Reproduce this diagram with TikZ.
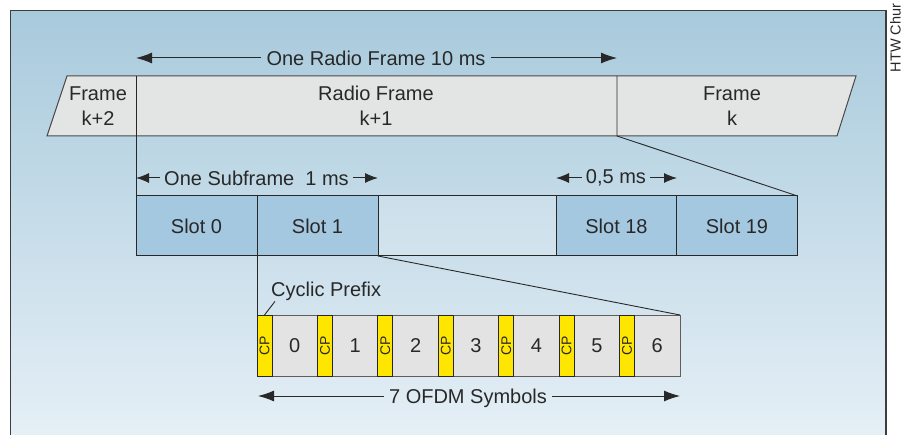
\documentclass[tikz,border=0pt]{standalone}
\usepackage{fontspec}
\setmainfont{Liberation Sans}
\usetikzlibrary{arrows.meta}
\definecolor{bgtop}{RGB}{168,202,220}
\definecolor{bgbot}{RGB}{229,239,246}
\definecolor{ink}{RGB}{40,40,40}
\definecolor{framefill}{RGB}{227,229,229}
\definecolor{slotfill}{RGB}{165,200,225}
\definecolor{cpfill}{RGB}{255,230,0}
\definecolor{symfill}{RGB}{227,227,227}
\tikzset{
  txt/.style={text=ink, font=\fontsize{20}{25}\selectfont, inner sep=0pt},
  slotbox/.style={txt, draw=ink, line width=1pt, fill=slotfill, minimum width=121pt, minimum height=60pt, outer sep=0pt},
  gapbox/.style={draw=ink, line width=1pt, fill=white, fill opacity=0.15, minimum width=178pt, minimum height=60pt, inner sep=0pt, outer sep=0pt},
  cpbox/.style={draw=ink, line width=0.9pt, fill=cpfill, minimum width=15pt, minimum height=61pt, inner sep=0pt, outer sep=0pt},
  cptext/.style={text=ink, font=\fontsize{14}{14}\selectfont, rotate=90, inner sep=0pt},
  symbox/.style={txt, draw=ink!75, line width=0.9pt, fill=symfill, minimum width=45.43pt, minimum height=61pt, outer sep=0pt},
  lbl/.style={txt, inner xsep=5pt},
  arr/.style={draw=ink, line width=1pt, -{Latex[length=16pt,width=11pt]}},
  sarr/.style={draw=ink, line width=1pt, -{Latex[length=13pt,width=10pt]}},
  link/.style={draw=ink, line width=0.9pt},
}
\begin{document}
\begin{tikzpicture}[x=1pt,y=-1pt]
\useasboundingbox (0,0) rectangle (904,435);
% panel
\shade[top color=bgtop, bottom color=bgbot] (10.5,10.5) rectangle (886,435);
\draw[draw=ink!90, line width=1.4pt] (10.5,440) -- (10.5,10.5) -- (886,10.5) -- (886,440);
\node[text=ink, font=\fontsize{14.5}{14.5}\selectfont, rotate=90, inner sep=0pt] (htw) at (895.5,38) {HTW Chur};

% radio frame row
\filldraw[fill=framefill, draw=ink!85, line width=1pt] (67,76) -- (856,76) -- (837,136) -- (47,136) -- cycle;
\coordinate (d1) at (136,76);
\coordinate (d2) at (617,76);
\coordinate (d2b) at (617,136);
\node[txt, align=center] (fk2) at (98,106) {Frame\\k+2};
\node[txt, align=center] (fk1) at (376,106) {Radio Frame\\k+1};
\node[txt, align=center] (fk) at (732,106) {Frame\\k};

% top arrow
\node[lbl] (t1) at (376,58) {One Radio Frame 10 ms};
\coordinate (a1l) at (136,58);
\coordinate (a1r) at (617,58);
\draw[arr] (t1.west) -- (a1l);
\draw[arr] (t1.east) -- (a1r);

% slots
\node[slotbox] (s0) at (196.5,226) {Slot 0};
\node[slotbox] (s1) at (317.5,226) {Slot 1};
\node[gapbox] (gap) at (467,226) {};
\node[slotbox] (s18) at (616.5,226) {Slot 18};
\node[slotbox] (s19) at (737,226) {Slot 19};

\draw[link] (d1) -- (s0.north west);
\draw[link] (d2) -- (d2b) -- (s19.north east);

% subframe arrows
\node[lbl, inner xsep=4pt] (t2) at (256.5,178) {One Subframe\ \ 1 ms};
\coordinate (a2l) at (136,178);
\coordinate (a2r) at (378,178);
\draw[sarr] (t2.west) -- (a2l);
\draw[sarr] (t2.east) -- (a2r);
\node[lbl, inner xsep=4pt] (t3) at (616,178) {0,5 ms};
\coordinate (a3l) at (556,178);
\coordinate (a3r) at (677,178);
\draw[sarr] (t3.west) -- (a3l);
\draw[sarr] (t3.east) -- (a3r);

% OFDM symbols
\foreach \i in {0,...,6} {
  \node[symbox] (sym\i) at ({294.715+60.43*\i},345.5) {\i};
  \node[cpbox] (cp\i) at ({264.5+60.43*\i},345.5) {};
  \node[cptext] (cpt\i) at (cp\i) {CP};
}
\draw[link] (s1.south west) -- (cp0.north west);
\draw[link] (s1.south east) -- (sym6.north east);

% cyclic prefix label
\node[txt, anchor=base west] (cpl) at (271,297) {Cyclic Prefix};
\draw[link] (cp0.north) -- ([xshift=4pt]cpl.south west);

% bottom arrow
\node[lbl, text depth=0pt] (t4) at (468,396) {7 OFDM Symbols};
\coordinate (a4l) at (258,396);
\coordinate (a4r) at (680,396);
\draw[arr] (t4.west) -- (t4.west -| a4l);
\draw[arr] (t4.east) -- (t4.east -| a4r);
\end{tikzpicture}
\end{document}
